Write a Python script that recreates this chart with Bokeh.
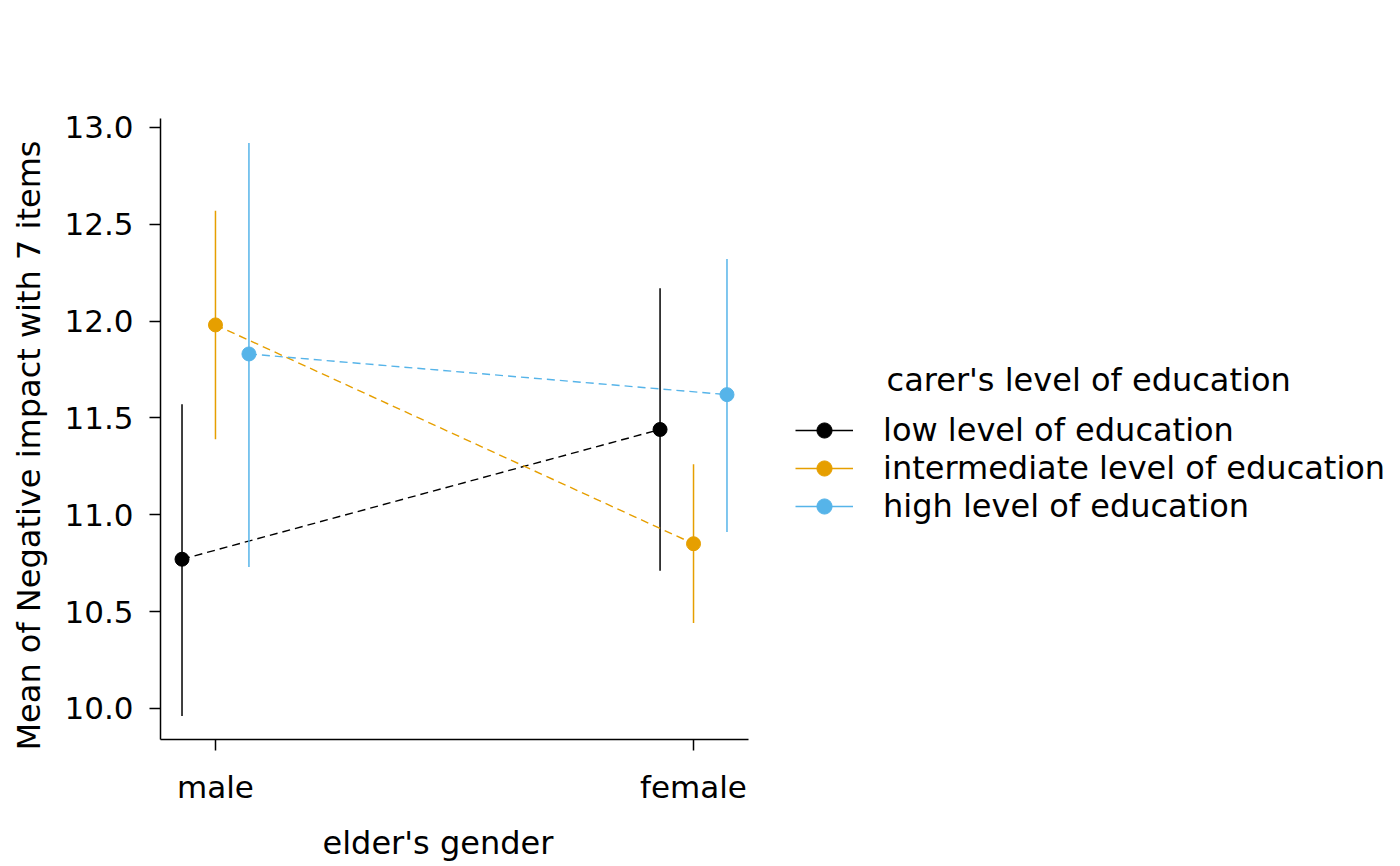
from bokeh.plotting import figure
from bokeh.models import (ColumnDataSource, FixedTicker, Range1d, Legend, LegendItem,
                          NumeralTickFormatter, Title)
from bokeh.embed import file_html
from bokeh.resources import INLINE

genders = ["male", "female"]
groups = ["low level of education", "intermediate level of education", "high level of education"]
colors = ["#000000", "#E69F00", "#56B4E9"]

means = {
    "low level of education": [10.77, 11.44],
    "intermediate level of education": [11.98, 10.85],
    "high level of education": [11.83, 11.62],
}
lower = {
    "low level of education": [9.96, 10.71],
    "intermediate level of education": [11.39, 10.44],
    "high level of education": [10.73, 10.91],
}
upper = {
    "low level of education": [11.57, 12.17],
    "intermediate level of education": [12.57, 11.26],
    "high level of education": [12.92, 12.32],
}
x_title = "elder's gender"
y_title = "Mean of Negative impact with 7 items"
legend_title = "carer's level of education"

FONT = "DejaVu Sans"
gx = [1, 2]
offsets = [-0.07, 0.0, 0.07]

p = figure(width=1384, height=850, output_backend="svg", toolbar_location=None,
           x_range=Range1d(0.885, 2.115), y_range=Range1d(9.839, 13.046),
           frame_width=588, frame_height=621,
           min_border_left=150, min_border_top=118, min_border_right=10, min_border_bottom=10)
p.margin = (0, 0, 0, -7)
p.background_fill_color = "white"
p.border_fill_color = "white"
p.outline_line_color = None
p.xgrid.visible = False
p.ygrid.visible = False

items = []
for g, c, off in zip(groups, colors, offsets):
    xs = [v + off for v in gx]
    src = ColumnDataSource(dict(x=xs, y=means[g], lo=lower[g], hi=upper[g]))
    p.segment(x0="x", y0="lo", x1="x", y1="hi", source=src, line_color=c, line_width=1.5)
    p.line(x="x", y="y", source=src, line_color=c, line_width=1.4, line_dash="8 5")
    p.scatter(x="x", y="y", source=src, size=14, fill_color=c, line_color=c)
    dl = p.line(x=[float("nan")], y=[float("nan")], line_color=c, line_width=1.5)
    ds = p.scatter(x=[float("nan")], y=[float("nan")], size=14, fill_color=c, line_color=c)
    items.append(LegendItem(label=g, renderers=[dl, ds]))

p.xaxis.ticker = FixedTicker(ticks=gx)
p.xaxis.major_label_overrides = {1: genders[0], 2: genders[1]}
p.yaxis.ticker = FixedTicker(ticks=[10.0, 10.5, 11.0, 11.5, 12.0, 12.5, 13.0])
p.yaxis.formatter = NumeralTickFormatter(format="0.0")

for ax in (p.xaxis[0], p.yaxis[0]):
    ax.axis_line_width = 1.5
    ax.axis_line_color = "black"
    ax.major_tick_line_width = 1.5
    ax.major_tick_line_color = "black"
    ax.major_tick_out = 11
    ax.major_tick_in = 0
    ax.minor_tick_line_color = None
    ax.major_label_text_font = FONT
    ax.major_label_text_font_size = "31px"
    ax.major_label_text_color = "black"

p.xaxis.major_label_standoff = 18
p.yaxis.major_label_standoff = 16

p.add_layout(Title(text=x_title, align="left", offset=162, standoff=29,
                   text_font=FONT, text_font_size="32px", text_font_style="normal",
                   text_color="black"), "below")
p.add_layout(Title(text=y_title, align="left", offset=-11, standoff=28,
                   text_font=FONT, text_font_size="32px", text_font_style="normal",
                   text_color="black"), "left")

legend = Legend(items=items, location=(47, 214),
                title="\u00a0" * 9 + legend_title,
                title_text_font=FONT, title_text_font_size="32px", title_text_font_style="normal",
                title_text_color="black", title_standoff=12,
                label_text_font=FONT, label_text_font_size="32px", label_text_color="black",
                glyph_width=58, glyph_height=38, label_height=38, label_standoff=30,
                spacing=0, padding=0, margin=0,
                border_line_color=None, background_fill_alpha=0)
p.add_layout(legend, "right")

open("out.html", "w").write(file_html(p, INLINE))
